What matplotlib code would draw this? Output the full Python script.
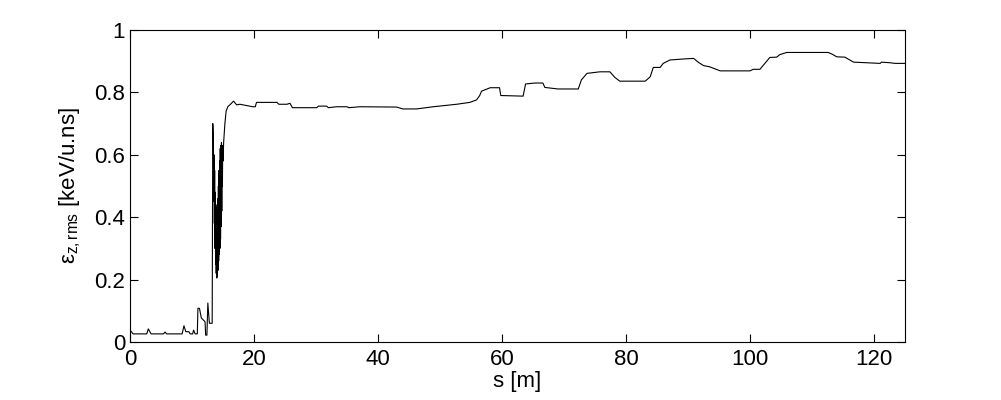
import numpy as np
import matplotlib
matplotlib.use('Agg')
import matplotlib.pyplot as plt

plt.rcParams['font.family'] = ['Liberation Sans', 'DejaVu Sans']
plt.rcParams['mathtext.fontset'] = 'custom'
plt.rcParams['mathtext.rm'] = 'Liberation Sans'
plt.rcParams['mathtext.it'] = 'Liberation Sans:italic'

## the data
s_low = [0.0, 0.5, 2.7, 2.95, 3.4, 5.4, 5.65, 5.9, 8.4, 8.7, 9.0, 9.5, 9.7,
         10.1, 10.25, 10.5, 10.85, 10.95, 11.2, 11.5, 12.1, 12.2, 12.4, 12.55,
         12.8, 13.25, 13.35]
eps_low = [0.038, 0.026, 0.026, 0.042, 0.026, 0.026, 0.032, 0.026, 0.026, 0.052,
           0.033, 0.033, 0.026, 0.026, 0.038, 0.026, 0.026, 0.108, 0.108, 0.077,
           0.065, 0.022, 0.022, 0.125, 0.06, 0.06, 0.70]

# jumpy part, alternating high/low samples
s_jump = [13.45, 13.5, 13.55, 13.6, 13.65, 13.7, 13.75, 13.8, 13.85, 13.9,
          13.95, 14.0, 14.05, 14.1, 14.15, 14.2, 14.25, 14.3, 14.35, 14.4,
          14.45, 14.5, 14.55, 14.6, 14.65, 14.7, 14.75, 14.8, 14.85, 14.9,
          14.95, 15.0]
eps_jump = [0.64, 0.45, 0.60, 0.38, 0.55, 0.30, 0.48, 0.25, 0.44, 0.22,
            0.42, 0.205, 0.43, 0.21, 0.46, 0.23, 0.50, 0.26, 0.55, 0.28,
            0.58, 0.30, 0.62, 0.33, 0.63, 0.37, 0.64, 0.42, 0.62, 0.50,
            0.63, 0.58]

s_high = [15.1, 15.3, 15.5, 15.8, 16.1, 16.7, 17.2, 17.7, 19.8, 20.2, 20.4,
          23.7, 24.0, 25.3, 25.8, 26.2, 30.1, 30.4, 31.7, 32.0, 33.3, 35.0,
          35.3, 37.1, 43.0, 44.0, 46.2, 48.9, 52.7, 54.8, 55.9, 56.4, 56.7,
          58.1, 59.6, 59.8, 63.4, 63.8, 65.3, 66.6, 66.9, 69.0, 72.3, 72.8,
          73.7, 75.8, 77.4, 78.2, 79.0, 83.1, 83.9, 84.4, 85.5, 86.0, 87.1,
          89.2, 90.9, 91.7, 92.5, 93.5, 95.2, 97.3, 100.0, 100.5, 101.6,
          102.1, 103.2, 104.3, 104.8, 105.9, 112.6, 113.2, 114.0, 115.3,
          116.1, 116.7, 118.8, 121.0, 121.2, 122.6, 123.4, 125.0]
eps_high = [0.64, 0.70, 0.74, 0.755, 0.76, 0.772, 0.76, 0.762, 0.754, 0.754,
            0.768, 0.768, 0.762, 0.762, 0.765, 0.751, 0.751, 0.756, 0.756,
            0.751, 0.754, 0.754, 0.751, 0.754, 0.753, 0.747, 0.747, 0.754,
            0.762, 0.768, 0.776, 0.79, 0.804, 0.815, 0.815, 0.79, 0.788,
            0.827, 0.83, 0.83, 0.816, 0.811, 0.811, 0.84, 0.861, 0.866, 0.866,
            0.848, 0.836, 0.836, 0.85, 0.88, 0.88, 0.893, 0.904, 0.907, 0.909,
            0.896, 0.886, 0.882, 0.869, 0.869, 0.869, 0.874, 0.874, 0.886,
            0.912, 0.913, 0.921, 0.928, 0.928, 0.923, 0.914, 0.913, 0.904,
            0.897, 0.895, 0.893, 0.897, 0.895, 0.893, 0.893]

s = s_low + s_jump + s_high
eps = eps_low + eps_jump + eps_high

fig = plt.figure(figsize=(10.01, 4.0), dpi=100)
ax = fig.add_axes([0.1299, 0.145, 0.7742, 0.78])

ax.plot(s, eps, color='k', linewidth=0.8)

##axes and labels
ax.set_xlim(0, 125)
ax.set_ylim(0, 1)
ax.set_xticks(np.arange(0, 121, 20))
ax.set_yticks([0, 0.2, 0.4, 0.6, 0.8, 1])
ax.set_yticklabels(['0', '0.2', '0.4', '0.6', '0.8', '1'])
ax.tick_params(direction='in', length=6, width=0.8, top=True, right=True,
               labelsize=16)
ax.tick_params(axis='x', pad=5)
ax.tick_params(axis='y', pad=3.5)
for sp in ax.spines.values():
    sp.set_linewidth(0.8)
ax.set_xlabel('s [m]', fontsize=16, labelpad=1)
ax.set_ylabel(r'ε$_{\mathrm{z,rms}}$ [keV/u.ns]', fontsize=16, labelpad=8)

fig.savefig('out.png', dpi=100)
